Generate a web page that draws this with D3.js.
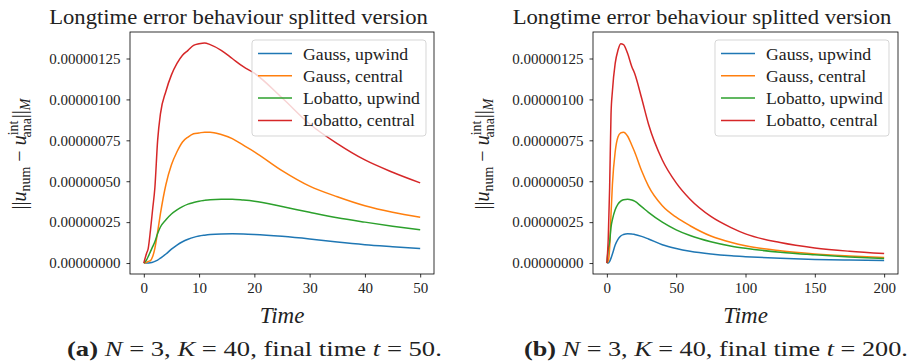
<!DOCTYPE html>
<html>
<head>
<meta charset="utf-8">
<script src="https://cdn.jsdelivr.net/npm/d3@7"></script>
<style>
  body { margin: 0; background: #fff; }
  svg text { font-family: "Liberation Serif", "DejaVu Serif", serif; fill: #222; }
</style>
</head>
<body>
<svg id="chart" width="916" height="362"></svg>
<script>
// error values are in units of 1e-6
var seriesNames = ["Gauss, upwind", "Gauss, central", "Lobatto, upwind", "Lobatto, central"];
var seriesColors = ["#1f77b4", "#ff7f0e", "#2ca02c", "#d62728"];

// run (a): final time 50
var timeA = [0, 0.5, 0.8, 1.2, 1.6, 2, 2.5, 3, 4, 5, 6, 7, 8, 9, 10, 11, 12, 14, 16, 18, 20, 25, 30, 35, 40, 45, 50];
var gaussUpA    = [0, 0, 0, 0.002, 0.005, 0.01, 0.018, 0.03, 0.055, 0.085, 0.11, 0.13, 0.145, 0.157, 0.165, 0.17, 0.174, 0.178, 0.179, 0.178, 0.175, 0.163, 0.147, 0.128, 0.112, 0.1, 0.089];
var gaussCenA   = [0, 0.005, 0.01, 0.015, 0.04, 0.09, 0.19, 0.3, 0.48, 0.6, 0.68, 0.74, 0.77, 0.79, 0.795, 0.8, 0.8, 0.785, 0.76, 0.72, 0.68, 0.565, 0.47, 0.405, 0.35, 0.31, 0.28];
var lobattoUpA  = [0, 0.02, 0.04, 0.07, 0.1, 0.13, 0.18, 0.22, 0.265, 0.3, 0.325, 0.345, 0.36, 0.37, 0.378, 0.383, 0.387, 0.39, 0.39, 0.385, 0.378, 0.345, 0.31, 0.277, 0.25, 0.225, 0.203];
var lobattoCenA = [0, 0.06, 0.09, 0.2, 0.33, 0.46, 0.75, 0.91, 1.05, 1.15, 1.22, 1.27, 1.3, 1.33, 1.34, 1.345, 1.335, 1.3, 1.25, 1.2, 1.16, 1.01, 0.85, 0.73, 0.63, 0.555, 0.49];

// run (b): final time 200
var timeB = [0, 1, 2, 3, 4, 6, 8, 10, 12, 15, 18, 20, 25, 30, 40, 50, 60, 75, 90, 100, 125, 150, 175, 200];
var gaussUpB    = [0, 0, 0.01, 0.03, 0.055, 0.11, 0.145, 0.165, 0.174, 0.179, 0.178, 0.175, 0.163, 0.147, 0.112, 0.089, 0.072, 0.055, 0.044, 0.039, 0.029, 0.022, 0.018, 0.015];
var gaussCenB   = [0, 0.012, 0.09, 0.3, 0.48, 0.68, 0.77, 0.795, 0.8, 0.775, 0.72, 0.68, 0.565, 0.47, 0.35, 0.28, 0.228, 0.165, 0.125, 0.105, 0.075, 0.056, 0.043, 0.034];
var lobattoUpB  = [0, 0.085, 0.13, 0.22, 0.265, 0.325, 0.36, 0.378, 0.387, 0.39, 0.385, 0.378, 0.345, 0.31, 0.25, 0.203, 0.168, 0.13, 0.103, 0.09, 0.066, 0.05, 0.037, 0.028];
var lobattoCenB = [0, 0.15, 0.46, 0.91, 1.05, 1.22, 1.3, 1.34, 1.335, 1.28, 1.2, 1.16, 1.01, 0.85, 0.63, 0.49, 0.39, 0.285, 0.215, 0.178, 0.125, 0.092, 0.072, 0.058];

var yTicks = [0, 0.25, 0.5, 0.75, 1.0, 1.25];
var xTicksA = [0, 10, 20, 30, 40, 50];
var xTicksB = [0, 50, 100, 150, 200];

var svg = d3.select("#chart");

// stretch a text horizontally to a target width (the original uses the wider LaTeX font)
function stretchTo(gSel, textSel, width) {
    var w = textSel.node().getComputedTextLength();
    var t = gSel.attr("transform") || "";
    gSel.attr("transform", t + " scale(" + (width / w) + ",1)");
}

function drawPanel(opts) {
    var g = svg.append("g");
    var x = d3.scaleLinear().domain([-0.05 * opts.tMax, 1.05 * opts.tMax]).range([opts.left, opts.right]);
    var y = d3.scaleLinear().domain([-0.067, 1.412]).range([opts.bottom, opts.top]);

    // curves
    var line = d3.line()
        .x(function(d) { return x(d[0]); })
        .y(function(d) { return y(d[1]); })
        .curve(d3.curveMonotoneX);
    opts.series.forEach(function(vals, i) {
        g.append("path")
            .datum(opts.time.map(function(t, k) { return [t, vals[k]]; }))
            .attr("fill", "none")
            .attr("stroke", seriesColors[i])
            .attr("stroke-width", 1.5)
            .attr("d", line);
    });

    // axes
    var xAxis = g.append("g")
        .attr("transform", "translate(0," + opts.bottom + ")")
        .call(d3.axisBottom(x).tickValues(opts.xTicks).tickSize(3.5).tickPadding(5));
    var yAxis = g.append("g")
        .attr("transform", "translate(" + opts.left + ",0)")
        .call(d3.axisLeft(y).tickValues(yTicks).tickSize(3.5).tickPadding(6)
            .tickFormat(function(d) { return (d * 1e-6).toFixed(8); }));
    [xAxis, yAxis].forEach(function(a) {
        a.select(".domain").remove();
        a.selectAll("line").attr("stroke", "#000").attr("stroke-width", 0.8);
        a.selectAll("text").attr("font-size", 15).attr("fill", "#222")
            .attr("font-family", "Liberation Serif, serif");
    });

    // frame
    g.append("rect")
        .attr("x", opts.left).attr("y", opts.top)
        .attr("width", opts.right - opts.left).attr("height", opts.bottom - opts.top)
        .attr("fill", "none").attr("stroke", "#000").attr("stroke-width", 0.8);

    // title (centred on the sub-figure, not on the axes)
    var tg = g.append("g").attr("transform", "translate(" + opts.titleX + ",24)");
    var tt = tg.append("text")
        .attr("text-anchor", "middle").attr("font-size", 20)
        .text("Longtime error behaviour splitted version");
    stretchTo(tg, tt, 379);

    // legend
    var lg = g.append("g").attr("transform", "translate(" + opts.legX + "," + 40 + ")");
    lg.append("rect")
        .attr("width", 174).attr("height", 96).attr("rx", 3)
        .attr("fill", "#fff").attr("fill-opacity", 0.8)
        .attr("stroke", "#ccc").attr("stroke-opacity", 0.8);
    var entries = [];
    seriesNames.forEach(function(name, i) {
        var cy = 13.5 + i * 22.3;
        lg.append("line")
            .attr("x1", 6).attr("x2", 40).attr("y1", cy).attr("y2", cy)
            .attr("stroke", seriesColors[i]).attr("stroke-width", 1.5);
        var eg = lg.append("g").attr("transform", "translate(51," + (cy + 6) + ")");
        var et = eg.append("text").attr("font-size", 17).text(name);
        entries.push([eg, et]);
    });
    // longest entry is 117px wide in the original
    var maxW = d3.max(entries, function(e) { return e[1].node().getComputedTextLength(); });
    entries.forEach(function(e) {
        e[0].attr("transform", e[0].attr("transform") + " scale(" + (117 / maxW) + ",1)");
    });

    // y label
    var yl = g.append("text")
        .attr("transform", "translate(" + opts.yLabX + "," + ((opts.top + opts.bottom) / 2 + 1) + ") rotate(-90)")
        .attr("text-anchor", "middle").attr("font-size", 20);
    yl.append("tspan").text("||");
    yl.append("tspan").attr("font-style", "italic").text("u");
    yl.append("tspan").attr("font-size", 14).attr("dy", 4).text("num");
    yl.append("tspan").attr("dy", -4).text(" \u2212 ");
    yl.append("tspan").attr("font-style", "italic").text("u");
    yl.append("tspan").attr("font-size", 14).attr("dy", -8).text("int");
    yl.append("tspan").attr("font-size", 14).attr("dx", -17).attr("dy", 13).text("ana");
    yl.append("tspan").attr("dy", -5).text("||");
    yl.append("tspan").attr("font-size", 14).attr("font-style", "italic").attr("dy", 4).text("M");

    // x label
    g.append("text")
        .attr("x", (opts.left + opts.right) / 2).attr("y", 323)
        .attr("text-anchor", "middle").attr("font-size", 23).attr("font-style", "italic")
        .text("Time");

    // caption
    var cg = g.append("g").attr("transform", "translate(" + opts.capX + ",356)");
    var cap = cg.append("text").attr("font-size", 21);
    cap.append("tspan").attr("font-weight", "bold").text("(" + opts.tag + ")");
    cap.append("tspan").text(" ");
    cap.append("tspan").attr("font-style", "italic").text("N");
    cap.append("tspan").text(" = 3, ");
    cap.append("tspan").attr("font-style", "italic").text("K");
    cap.append("tspan").text(" = 40, final time ");
    cap.append("tspan").attr("font-style", "italic").text("t");
    cap.append("tspan").text(" = " + opts.tMax + ".");
    stretchTo(cg, cap, opts.capW);
}

drawPanel({
    left: 130, right: 434, top: 32, bottom: 274, tMax: 50,
    time: timeA, series: [gaussUpA, gaussCenA, lobattoUpA, lobattoCenA],
    xTicks: xTicksA, titleX: 238.5, legX: 252, yLabX: 26, capX: 67, capW: 375, tag: "a"
});
drawPanel({
    left: 593, right: 898, top: 32, bottom: 274, tMax: 200,
    time: timeB, series: [gaussUpB, gaussCenB, lobattoUpB, lobattoCenB],
    xTicks: xTicksB, titleX: 702, legX: 715, yLabX: 489, capX: 524, capW: 384, tag: "b"
});
</script>
</body>
</html>
